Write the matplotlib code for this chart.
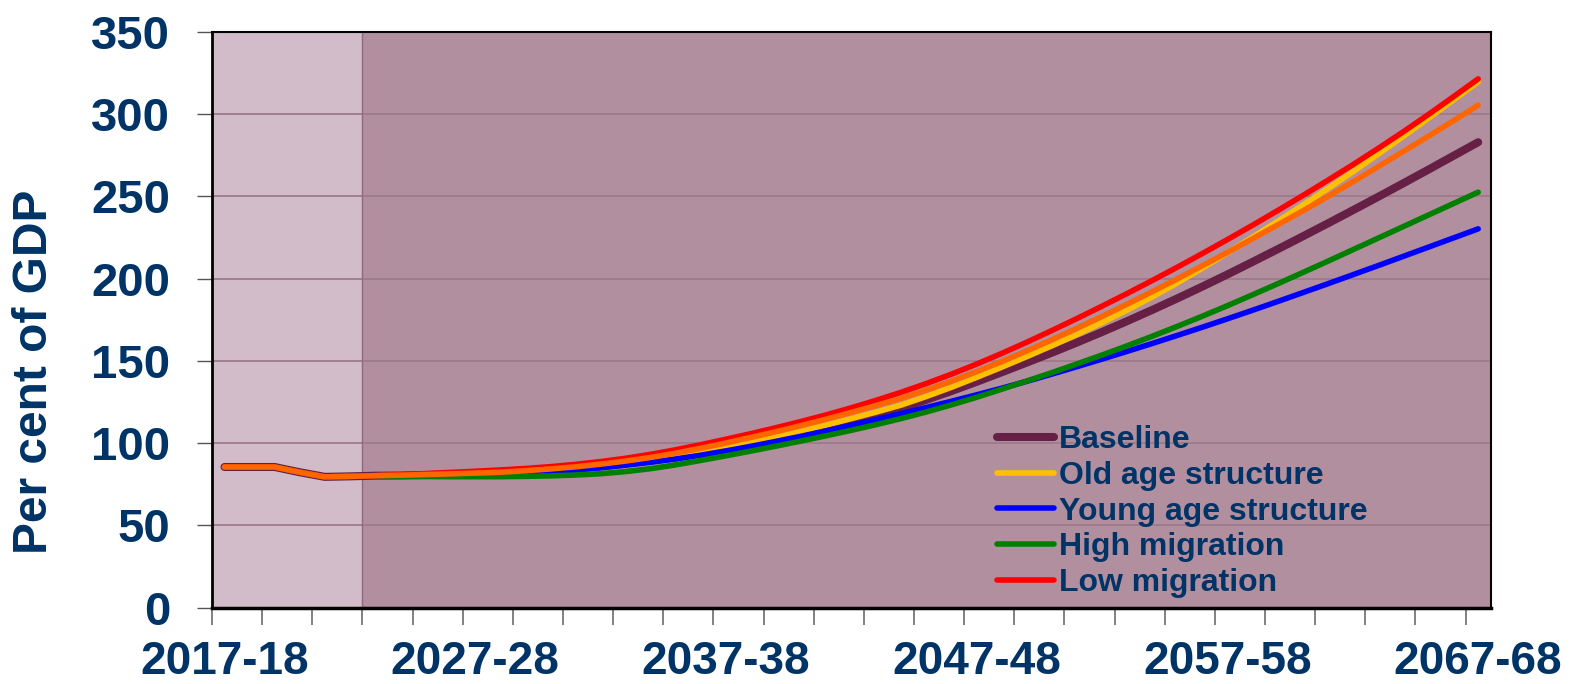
"""Public debt projections under alternative demographic scenarios, per cent of GDP."""
import matplotlib

matplotlib.use("Agg")
import matplotlib.pyplot as plt  # noqa: E402
import numpy as np  # noqa: E402

years = [f"{y}-{(y + 1) % 100:02d}" for y in range(2017, 2068)]

history = [85.5, 85.5, 85.5, 82.3, 79.5, 79.8, 80.2]

low_migration = history + [
    80.8, 81.5, 82.2, 82.9, 83.7, 84.6, 85.7, 87.1, 88.8, 90.8,
    93.2, 96.0, 99.1, 102.4, 105.8, 109.4, 113.2, 117.2, 121.5, 126.1,
    131.0, 136.3, 142.0, 148.1, 154.6, 161.4, 168.5, 175.8, 183.3, 191.0,
    198.9, 207.0, 215.3, 223.8, 232.5, 241.4, 250.5, 259.8, 269.3, 279.1,
    289.2, 299.7, 310.5, 321.5]

other = history + [
    80.5, 80.9, 81.3, 81.8, 82.3, 83.2, 84.3, 85.6, 87.2, 89.1,
    91.3, 93.9, 96.9, 100.1, 103.5, 107.0, 110.7, 114.6, 118.7, 122.9,
    127.3, 132.3, 137.7, 143.5, 149.6, 156.1, 162.9, 169.9, 177.1, 184.5,
    192.1, 199.9, 207.9, 216.0, 224.3, 232.7, 241.2, 249.9, 258.9, 268.0,
    277.2, 286.5, 295.9, 305.5]

old_age = history + [
    80.4, 80.7, 81.0, 81.4, 81.9, 82.7, 83.7, 84.8, 86.1, 87.7,
    89.6, 91.8, 94.4, 97.3, 100.4, 103.7, 107.2, 111.0, 114.9, 118.9,
    123.2, 128.4, 134.0, 140.0, 146.2, 152.6, 159.2, 166.1, 173.3, 180.9,
    188.9, 197.4, 206.4, 215.8, 225.3, 234.9, 244.7, 254.7, 265.0, 275.6,
    286.4, 297.4, 308.5, 319.7]

baseline = history + [
    80.3, 80.6, 80.9, 81.2, 81.6, 82.4, 83.4, 84.6, 86.0, 87.6,
    89.4, 91.5, 93.9, 96.6, 99.5, 102.7, 106.1, 109.7, 113.4, 117.3,
    121.4, 126.4, 131.7, 137.3, 143.1, 149.0, 155.0, 161.2, 167.6, 174.2,
    181.0, 188.0, 195.2, 202.6, 210.2, 217.9, 225.7, 233.6, 241.6, 249.7,
    257.9, 266.2, 274.6, 283.0]

young_age = history + [
    80.2, 80.4, 80.6, 80.9, 81.3, 81.9, 82.7, 83.7, 85.0, 86.6,
    88.4, 90.4, 92.7, 95.3, 98.1, 101.1, 104.2, 107.5, 110.9, 114.4,
    118.0, 121.7, 125.5, 129.4, 133.4, 137.6, 142.0, 146.5, 151.1, 155.8,
    160.6, 165.5, 170.5, 175.6, 180.8, 186.1, 191.5, 196.9, 202.4, 207.9,
    213.5, 219.1, 224.7, 230.3]

high_migration = history + [
    79.9, 79.7, 79.6, 79.6, 79.6, 79.8, 80.1, 80.6, 81.4, 82.7,
    84.5, 86.8, 89.5, 92.3, 95.2, 98.2, 101.3, 104.5, 107.8, 111.3,
    115.0, 119.0, 123.3, 127.9, 132.8, 137.8, 142.9, 148.2, 153.6, 159.2,
    165.0, 171.0, 177.2, 183.6, 190.2, 196.9, 203.7, 210.6, 217.6, 224.6,
    231.6, 238.6, 245.6, 252.6]

n_history = 6  # years shaded as outturn

NAVY = "#003366"
plt.rcParams["font.family"] = ["Liberation Sans", "DejaVu Sans"]
plt.rcParams["font.weight"] = "bold"

fig = plt.figure(figsize=(15.7, 6.84), dpi=100)
ax = fig.add_axes([0.135, 0.1117, 0.8145, 0.8415])
x = np.arange(len(years))

ax.set_facecolor("#b28f9f")
ax.axvspan(-0.5, n_history - 0.5, color="#d3bcc9", zorder=0, lw=0)
ax.axvline(n_history - 0.5, color="#8e6a7b", lw=1.0, zorder=1)
ax.set_yticks(np.arange(0, 351, 50))
ax.grid(axis="y", color="#9c7a8a", lw=1.3, zorder=1)
ax.set_axisbelow(True)

kw = dict(solid_capstyle="round", zorder=3)
ax.plot(x, baseline, color="#662046", lw=5.8, label="Baseline", **kw)
ax.plot(x, old_age, color="#ffc000", lw=4.0, label="Old age structure", **kw)
ax.plot(x, young_age, color="#0000ff", lw=4.0, label="Young age structure", **kw)
ax.plot(x, high_migration, color="#008000", lw=4.0, label="High migration", **kw)
ax.plot(x, low_migration, color="#ff0000", lw=4.0, label="Low migration", **kw)
ax.plot(x, other, color="#ff6600", lw=4.0, label="_nolegend_", **kw)

ax.set_xlim(-0.5, len(years) - 0.5)
ax.set_ylim(0, 350)

# tick marks on category boundaries every two years, labels every ten
ax.set_xticks(np.arange(-0.5, len(years) - 1, 2))
ax.set_xticklabels([])
ax.tick_params(axis="x", which="major", length=12, width=1.3, color="#777777", direction="out")
lab_pos = np.arange(0, len(years), 10)
ax.set_xticks(lab_pos, minor=True)
ax.set_xticklabels([years[i] for i in lab_pos], minor=True)
ax.tick_params(axis="x", which="minor", length=0, pad=23, labelsize=33, labelcolor=NAVY)
ax.tick_params(axis="y", length=11, width=1.0, color="#555555", pad=19,
               labelsize=34, labelcolor=NAVY)

for s in ax.spines.values():
    s.set_color("black")
    s.set_linewidth(1.5)
ax.spines["bottom"].set_linewidth(2.5)
ax.spines["left"].set_linewidth(2.0)

fig.text(0.022, 0.457, "Per cent of GDP", rotation=90, ha="center", va="center",
         fontsize=34.5, color=NAVY, fontweight="bold")

leg = ax.legend(loc="upper left", bbox_to_anchor=(0.614, 0.317), frameon=False,
                fontsize=23, handlelength=1.79, handletextpad=0.15, labelspacing=0.18,
                borderpad=0, borderaxespad=0)
for t in leg.get_texts():
    t.set_color(NAVY)
    t.set_fontweight("bold")

fig.savefig("out.png", dpi=100)
plt.close(fig)
